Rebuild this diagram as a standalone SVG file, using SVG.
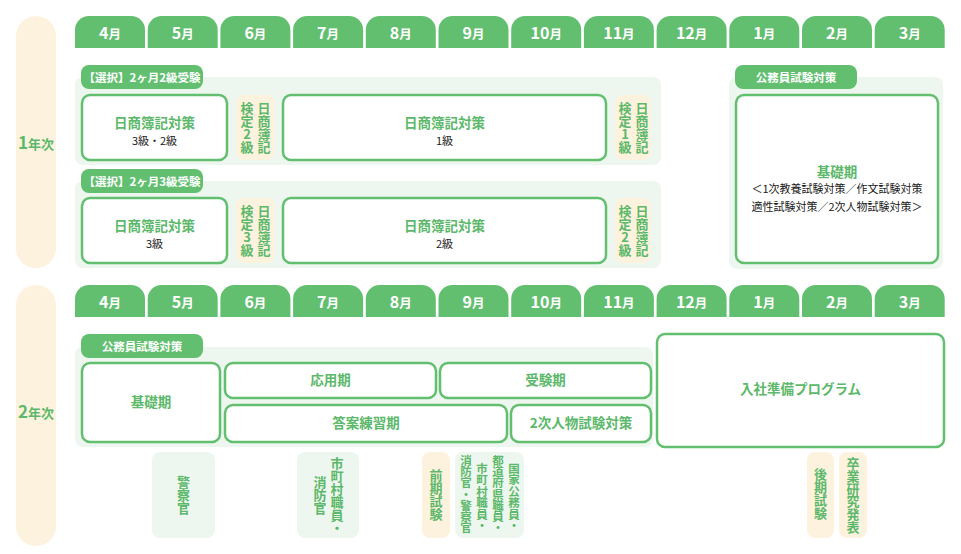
<svg xmlns="http://www.w3.org/2000/svg" width="961" height="554" viewBox="0 0 961 554">
<style>
.yr{fill:#fdf2de}
.tab{fill:#63bf70}
.tabt{fill:#fff;font-family:"Noto Sans CJK JP","Noto Sans",sans-serif;font-weight:700;text-anchor:middle}
.tabt .n{font-size:16px}
.tabt .m{font-size:12.5px}
.grp{fill:#eef7ef}
.tag{fill:#63bf70}
.tagt{fill:#fff;font-family:"Noto Sans CJK JP",sans-serif;font-weight:700;font-size:11.5px;text-anchor:middle}
.box{fill:#fff;stroke:#63bf70;stroke-width:2.5}
.gt{fill:#5cb86a;font-family:"Noto Sans CJK JP",sans-serif;font-weight:700;font-size:13.5px;text-anchor:middle}
.bt{fill:#1a1a1a;font-family:"Noto Sans CJK JP",sans-serif;font-size:11px;text-anchor:middle}
.cream{fill:#fdf2de}
.lg{fill:#eef7ef}
.vt{fill:#5cb86a;font-family:"Noto Sans CJK JP",sans-serif;font-weight:700;font-size:13px;text-anchor:middle;writing-mode:vertical-rl;text-orientation:upright}
.vs{font-size:11.5px}
.yt{fill:#5cb86a;font-family:"Noto Sans CJK JP",sans-serif;font-weight:700;text-anchor:middle}
</style>
<rect width="961" height="554" fill="#fff"/>

<g id="year1">
<rect class="yr" x="16" y="16" width="40" height="252" rx="20"/>
<text class="yt" x="36" y="149"><tspan font-size="17">1</tspan><tspan font-size="13">年次</tspan></text>
</g>
<g id="year2">
<rect class="yr" x="16" y="285" width="40" height="261" rx="20"/>
<text class="yt" x="36" y="418"><tspan font-size="17">2</tspan><tspan font-size="13">年次</tspan></text>
</g>

<g id="months1">
<path class="tab" d="M75,48V30A14,14 0 0 1 89,16H131A14,14 0 0 1 145,30V48Z"/>
<path class="tab" d="M147.7,48V30A14,14 0 0 1 161.7,16H203.7A14,14 0 0 1 217.7,30V48Z"/>
<path class="tab" d="M220.4,48V30A14,14 0 0 1 234.4,16H276.4A14,14 0 0 1 290.4,30V48Z"/>
<path class="tab" d="M293.1,48V30A14,14 0 0 1 307.1,16H349.1A14,14 0 0 1 363.1,30V48Z"/>
<path class="tab" d="M365.8,48V30A14,14 0 0 1 379.8,16H421.8A14,14 0 0 1 435.8,30V48Z"/>
<path class="tab" d="M438.5,48V30A14,14 0 0 1 452.5,16H494.5A14,14 0 0 1 508.5,30V48Z"/>
<path class="tab" d="M511.2,48V30A14,14 0 0 1 525.2,16H567.2A14,14 0 0 1 581.2,30V48Z"/>
<path class="tab" d="M583.9,48V30A14,14 0 0 1 597.9,16H639.9A14,14 0 0 1 653.9,30V48Z"/>
<path class="tab" d="M656.6,48V30A14,14 0 0 1 670.6,16H712.6A14,14 0 0 1 726.6,30V48Z"/>
<path class="tab" d="M729.3,48V30A14,14 0 0 1 743.3,16H785.3A14,14 0 0 1 799.3,30V48Z"/>
<path class="tab" d="M802,48V30A14,14 0 0 1 816,16H858A14,14 0 0 1 872,30V48Z"/>
<path class="tab" d="M874.7,48V30A14,14 0 0 1 888.7,16H930.7A14,14 0 0 1 944.7,30V48Z"/>
<text class="tabt" x="110" y="38.5"><tspan class="n">4</tspan><tspan class="m">月</tspan></text>
<text class="tabt" x="182.7" y="38.5"><tspan class="n">5</tspan><tspan class="m">月</tspan></text>
<text class="tabt" x="255.4" y="38.5"><tspan class="n">6</tspan><tspan class="m">月</tspan></text>
<text class="tabt" x="328.1" y="38.5"><tspan class="n">7</tspan><tspan class="m">月</tspan></text>
<text class="tabt" x="400.8" y="38.5"><tspan class="n">8</tspan><tspan class="m">月</tspan></text>
<text class="tabt" x="473.5" y="38.5"><tspan class="n">9</tspan><tspan class="m">月</tspan></text>
<text class="tabt" x="546.2" y="38.5"><tspan class="n">10</tspan><tspan class="m">月</tspan></text>
<text class="tabt" x="618.9" y="38.5"><tspan class="n">11</tspan><tspan class="m">月</tspan></text>
<text class="tabt" x="691.6" y="38.5"><tspan class="n">12</tspan><tspan class="m">月</tspan></text>
<text class="tabt" x="764.3" y="38.5"><tspan class="n">1</tspan><tspan class="m">月</tspan></text>
<text class="tabt" x="837" y="38.5"><tspan class="n">2</tspan><tspan class="m">月</tspan></text>
<text class="tabt" x="909.7" y="38.5"><tspan class="n">3</tspan><tspan class="m">月</tspan></text>
</g>

<g id="months2">
<path class="tab" d="M75,317V299A14,14 0 0 1 89,285H131A14,14 0 0 1 145,299V317Z"/>
<path class="tab" d="M147.7,317V299A14,14 0 0 1 161.7,285H203.7A14,14 0 0 1 217.7,299V317Z"/>
<path class="tab" d="M220.4,317V299A14,14 0 0 1 234.4,285H276.4A14,14 0 0 1 290.4,299V317Z"/>
<path class="tab" d="M293.1,317V299A14,14 0 0 1 307.1,285H349.1A14,14 0 0 1 363.1,299V317Z"/>
<path class="tab" d="M365.8,317V299A14,14 0 0 1 379.8,285H421.8A14,14 0 0 1 435.8,299V317Z"/>
<path class="tab" d="M438.5,317V299A14,14 0 0 1 452.5,285H494.5A14,14 0 0 1 508.5,299V317Z"/>
<path class="tab" d="M511.2,317V299A14,14 0 0 1 525.2,285H567.2A14,14 0 0 1 581.2,299V317Z"/>
<path class="tab" d="M583.9,317V299A14,14 0 0 1 597.9,285H639.9A14,14 0 0 1 653.9,299V317Z"/>
<path class="tab" d="M656.6,317V299A14,14 0 0 1 670.6,285H712.6A14,14 0 0 1 726.6,299V317Z"/>
<path class="tab" d="M729.3,317V299A14,14 0 0 1 743.3,285H785.3A14,14 0 0 1 799.3,299V317Z"/>
<path class="tab" d="M802,317V299A14,14 0 0 1 816,285H858A14,14 0 0 1 872,299V317Z"/>
<path class="tab" d="M874.7,317V299A14,14 0 0 1 888.7,285H930.7A14,14 0 0 1 944.7,299V317Z"/>
<text class="tabt" x="110" y="307.5"><tspan class="n">4</tspan><tspan class="m">月</tspan></text>
<text class="tabt" x="182.7" y="307.5"><tspan class="n">5</tspan><tspan class="m">月</tspan></text>
<text class="tabt" x="255.4" y="307.5"><tspan class="n">6</tspan><tspan class="m">月</tspan></text>
<text class="tabt" x="328.1" y="307.5"><tspan class="n">7</tspan><tspan class="m">月</tspan></text>
<text class="tabt" x="400.8" y="307.5"><tspan class="n">8</tspan><tspan class="m">月</tspan></text>
<text class="tabt" x="473.5" y="307.5"><tspan class="n">9</tspan><tspan class="m">月</tspan></text>
<text class="tabt" x="546.2" y="307.5"><tspan class="n">10</tspan><tspan class="m">月</tspan></text>
<text class="tabt" x="618.9" y="307.5"><tspan class="n">11</tspan><tspan class="m">月</tspan></text>
<text class="tabt" x="691.6" y="307.5"><tspan class="n">12</tspan><tspan class="m">月</tspan></text>
<text class="tabt" x="764.3" y="307.5"><tspan class="n">1</tspan><tspan class="m">月</tspan></text>
<text class="tabt" x="837" y="307.5"><tspan class="n">2</tspan><tspan class="m">月</tspan></text>
<text class="tabt" x="909.7" y="307.5"><tspan class="n">3</tspan><tspan class="m">月</tspan></text>
</g>

<!-- Year 1, group A -->
<g id="groupA">
<rect class="grp" x="75" y="77" width="586" height="88" rx="8"/>
<rect class="tag" x="81" y="65" width="122" height="24" rx="8"/>
<text class="tagt" x="142" y="81.5">【選択】2ヶ月2級受験</text>
</g>
<g id="a1">
<rect class="box" x="82" y="95" width="145" height="65" rx="8"/>
<text class="gt" x="154.5" y="128">日商簿記対策</text>
<text class="bt" x="154.5" y="145">3級・2級</text>
</g>
<g id="a2">
<rect class="cream" x="236" y="95" width="39" height="65" rx="8"/>
<text class="vt" x="264" y="127.5">日商簿記</text>
<text class="vt" x="247" y="127.5">検定2級</text>
</g>
<g id="a3">
<rect class="box" x="283" y="95" width="323" height="65" rx="8"/>
<text class="gt" x="444.5" y="128">日商簿記対策</text>
<text class="bt" x="444.5" y="145">1級</text>
</g>
<g id="a4">
<rect class="cream" x="615" y="95" width="36" height="65" rx="8"/>
<text class="vt" x="642" y="127.5">日商簿記</text>
<text class="vt" x="625" y="127.5">検定1級</text>
</g>

<!-- Year 1, group B -->
<g id="groupB">
<rect class="grp" x="75" y="181" width="586" height="87" rx="8"/>
<rect class="tag" x="81" y="169" width="122" height="24" rx="8"/>
<text class="tagt" x="142" y="185.5">【選択】2ヶ月3級受験</text>
</g>
<g id="b1">
<rect class="box" x="82" y="198" width="145" height="65" rx="8"/>
<text class="gt" x="154.5" y="231">日商簿記対策</text>
<text class="bt" x="154.5" y="248">3級</text>
</g>
<g id="b2">
<rect class="cream" x="236" y="198" width="39" height="65" rx="8"/>
<text class="vt" x="264" y="230.5">日商簿記</text>
<text class="vt" x="247" y="230.5">検定3級</text>
</g>
<g id="b3">
<rect class="box" x="283" y="198" width="323" height="65" rx="8"/>
<text class="gt" x="444.5" y="231">日商簿記対策</text>
<text class="bt" x="444.5" y="248">2級</text>
</g>
<g id="b4">
<rect class="cream" x="615" y="198" width="36" height="65" rx="8"/>
<text class="vt" x="642" y="230.5">日商簿記</text>
<text class="vt" x="625" y="230.5">検定2級</text>
</g>

<!-- Year 1, civil service -->
<g id="groupC">
<rect class="grp" x="729" y="77" width="214" height="192" rx="8"/>
<rect class="tag" x="735" y="65" width="122" height="24" rx="8"/>
<text class="tagt" x="796" y="81.5">公務員試験対策</text>
</g>
<g id="c1">
<rect class="box" x="736" y="95" width="202" height="168" rx="8"/>
<text class="gt" x="837" y="177">基礎期</text>
<text class="bt" x="837" y="193" font-size="11.5">＜1次教養試験対策／作文試験対策</text>
<text class="bt" x="837" y="211" font-size="11.5">適性試験対策／2次人物試験対策＞</text>
</g>

<!-- Year 2 -->
<g id="groupD">
<rect class="grp" x="75" y="347" width="578" height="100" rx="8"/>
<rect class="tag" x="81" y="334" width="122" height="24" rx="8"/>
<text class="tagt" x="142" y="350.5">公務員試験対策</text>
</g>
<g id="d1">
<rect class="box" x="82" y="363" width="138" height="79" rx="8"/>
<text class="gt" x="151" y="407">基礎期</text>
</g>
<g id="d2">
<rect class="box" x="225" y="363" width="211" height="35" rx="8"/>
<text class="gt" x="330.5" y="385">応用期</text>
</g>
<g id="d3">
<rect class="box" x="440" y="363" width="211" height="35" rx="8"/>
<text class="gt" x="545.5" y="385">受験期</text>
</g>
<g id="d4">
<rect class="box" x="225" y="405" width="282" height="37" rx="8"/>
<text class="gt" x="366" y="428">答案練習期</text>
</g>
<g id="d5">
<rect class="box" x="511" y="405" width="140" height="37" rx="8"/>
<text class="gt" x="581" y="428">2次人物試験対策</text>
</g>
<g id="d6">
<rect class="box" x="657" y="334" width="287" height="113" rx="8"/>
<text class="gt" x="800.5" y="394">入社準備プログラム</text>
</g>

<g id="e1">
<rect class="lg" x="152" y="452" width="63" height="86" rx="8"/>
<text class="vt" x="183.5" y="495" font-size="13.3">警察官</text>
</g>
<g id="e2">
<rect class="lg" x="297" y="452" width="62" height="86" rx="8"/>
<text class="vt" x="337" y="496">市町村職員・</text>
<text class="vt" x="320" y="495">消防官</text>
</g>
<g id="e3">
<rect class="cream" x="422" y="452" width="28" height="86" rx="8"/>
<text class="vt" x="436" y="495" font-size="13.5">前期試験</text>
</g>
<g id="e4">
<rect class="lg" x="455" y="452" width="69" height="86" rx="8"/>
<text class="vt vs" x="514" y="497">国家公務員・</text>
<text class="vt vs" x="498" y="494" letter-spacing="-0.4">都道府県職員・</text>
<text class="vt vs" x="482" y="497">市町村職員・</text>
<text class="vt vs" x="466" y="494" letter-spacing="-0.4">消防官・警察官</text>
</g>
<g id="e5">
<rect class="cream" x="807" y="452" width="27" height="86" rx="8"/>
<text class="vt" x="820.5" y="494" font-size="13.5">後期試験</text>
</g>
<g id="e6">
<rect class="cream" x="839" y="452" width="28" height="86" rx="8"/>
<text class="vt" x="853" y="495" letter-spacing="-0.3">卒業研究発表</text>
</g>

<g id="connectors"></g>
</svg>
